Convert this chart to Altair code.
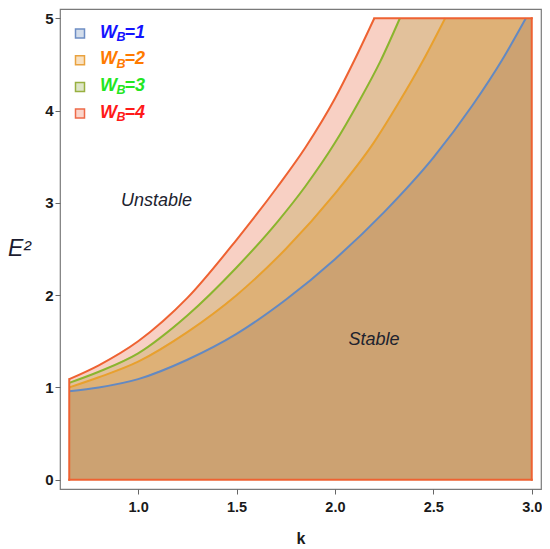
import altair as alt
import pandas as pd

FONT = "Liberation Sans"

# region bounds
K_MIN, K_MAX, E_MAX = 0.65, 3.0, 5.0
# plot range (frame)
X_LO, X_HI = 0.603, 3.047
Y_LO, Y_HI = -0.1, 5.1

# stability boundary curves
k_w1 = [0.65, 0.80, 1.00, 1.25, 1.50, 1.75, 2.00, 2.25, 2.50, 2.70, 2.85, 2.97]
e_w1 = [0.96, 1.00, 1.09, 1.30, 1.58, 1.95, 2.39, 2.90, 3.49, 4.06, 4.55, 5.00]
k_w2 = [0.65, 0.80, 1.00, 1.25, 1.50, 1.75, 2.00, 2.20, 2.32, 2.45, 2.56]
e_w2 = [1.00, 1.11, 1.28, 1.60, 2.00, 2.50, 3.10, 3.66, 4.07, 4.55, 5.00]
k_w3 = [0.65, 0.80, 1.00, 1.25, 1.50, 1.71, 1.85, 2.00, 2.12, 2.23, 2.33]
e_w3 = [1.05, 1.17, 1.37, 1.78, 2.30, 2.80, 3.18, 3.65, 4.09, 4.53, 5.00]
k_w4 = [0.65, 0.80, 1.00, 1.25, 1.50, 1.71, 1.85, 2.00, 2.10, 2.20]
e_w4 = [1.09, 1.24, 1.50, 1.97, 2.60, 3.18, 3.60, 4.13, 4.55, 5.00]

legend_labels = ["=1", "=2", "=3", "=4"]

# ticks
x_major = [1.0, 1.5, 2.0, 2.5, 3.0]
y_major = [0, 1, 2, 3, 4, 5]

# styles
fill_cols = ["#CCA272", "#DEB177", "#E2C19B", "#F8D0C4"]
line_cols = ["#6389C2", "#E8A02E", "#8AB52E", "#EE6232"]
leg_fill = ["#D3DDEB", "#F8E1C2", "#DEE6C8", "#FAD5CB"]
leg_stroke = ["#6D8DC4", "#E9A23F", "#98B040", "#EE6A48"]
leg_text = ["#1414FF", "#FF7A00", "#22E622", "#FF1A1A"]
FRAME = "#7a7a7a"
TICK = "#666666"

W, H = 481, 480

xs = alt.Scale(domain=[X_LO, X_HI], nice=False, zero=False)
ys = alt.Scale(domain=[Y_LO, Y_HI], nice=False, zero=False)

xaxis = alt.Axis(orient="bottom", values=x_major, format=".1f", domain=False, ticks=True,
                 tickSize=5, tickColor=TICK, tickWidth=1, grid=False, labelFont=FONT,
                 labelFontWeight="bold", labelFontSize=14.5, labelColor="#1a1a1a",
                 labelPadding=6, title="k", titleFont=FONT, titleFontSize=16,
                 titleFontWeight="bold", titleColor="#1a1a1a", titleY=54,
                 titleBaseline="alphabetic")
yaxis = alt.Axis(orient="left", values=y_major, format="d", domain=False, ticks=True,
                 tickSize=5, tickColor=TICK, tickWidth=1, grid=False, labelFont=FONT,
                 labelFontWeight="bold", labelFontSize=15, labelColor="#1a1a1a",
                 labelPadding=2, title="E²", titleFont=FONT, titleFontSize=23,
                 titleFontStyle="italic", titleFontWeight="normal", titleColor="#1c1c30",
                 titleAngle=0, titleX=-41, titleY=239, titleAlign="center",
                 titleBaseline="middle")

Xn = alt.X("k:Q", scale=xs, axis=None)
Yn = alt.Y("e:Q", scale=ys, axis=None)

curves = [(k_w1, e_w1), (k_w2, e_w2), (k_w3, e_w3), (k_w4, e_w4)]

layers = []
# filled regions, largest first (the first one carries the labelled axes)
for n, i in enumerate([3, 2, 1, 0]):
    ks, es = curves[i]
    df = pd.DataFrame({"k": ks + [K_MAX], "e": es + [E_MAX]})
    if n == 0:
        enc = dict(x=alt.X("k:Q", scale=xs, axis=xaxis), y=alt.Y("e:Q", scale=ys, axis=yaxis))
    else:
        enc = dict(x=Xn, y=Yn)
    layers.append(alt.Chart(df).mark_area(color=fill_cols[i], opacity=1)
                  .encode(y2=alt.datum(0), **enc))

# boundary curves (smooth)
for i in [0, 1, 2, 3]:
    ks, es = curves[i]
    df = pd.DataFrame({"k": ks, "e": es})
    layers.append(alt.Chart(df).mark_line(color=line_cols[i], strokeWidth=2,
                                          interpolate="monotone")
                  .encode(x=Xn, y=Yn))

# straight outline of W_B = 4 region
edges = pd.DataFrame({"k": [K_MIN, K_MAX, K_MIN, k_w4[-1]],
                      "k2": [K_MIN, K_MAX, K_MAX, K_MAX],
                      "e": [0.0, 0.0, 0.0, E_MAX],
                      "e2": [e_w4[0], E_MAX, 0.0, E_MAX]})
layers.append(alt.Chart(edges).mark_rule(color=line_cols[3], strokeWidth=2, strokeCap="square")
              .encode(x=Xn, x2="k2:Q", y=Yn, y2="e2:Q"))

# legend
one = pd.DataFrame({"a": [0]})
for i, lab in enumerate(legend_labels):
    yc = 24.5 + i * 26.7
    layers.append(alt.Chart(one).mark_square(size=81, fill=leg_fill[i], stroke=leg_stroke[i],
                                             strokeWidth=1.5, opacity=1)
                  .encode(x=alt.value(20), y=alt.value(yc)))
    layers.append(alt.Chart(one).mark_text(text="W", font=FONT, fontSize=18, fontWeight="bold",
                                           fontStyle="italic", align="left", baseline="alphabetic",
                                           color=leg_text[i])
                  .encode(x=alt.value(40), y=alt.value(yc + 4)))
    layers.append(alt.Chart(one).mark_text(text="B", font=FONT, fontSize=12.5, fontWeight="bold",
                                           fontStyle="italic", align="left", baseline="alphabetic",
                                           color=leg_text[i])
                  .encode(x=alt.value(56.5), y=alt.value(yc + 7.5)))
    layers.append(alt.Chart(one).mark_text(text=lab, font=FONT, fontSize=18, fontWeight="bold",
                                           fontStyle="italic", align="left", baseline="alphabetic",
                                           color=leg_text[i])
                  .encode(x=alt.value(64.5), y=alt.value(yc + 4)))

# region labels
layers.append(alt.Chart(one).mark_text(text="Unstable", font=FONT, fontSize=18, fontStyle="italic",
                                       align="center", baseline="middle", color="#20222e")
              .encode(x=alt.value(96.5), y=alt.value(192)))
layers.append(alt.Chart(one).mark_text(text="Stable", font=FONT, fontSize=18, fontStyle="italic",
                                       align="center", baseline="middle", color="#20222e")
              .encode(x=alt.value(314), y=alt.value(331)))

chart = alt.layer(*layers).resolve_axis(x="independent", y="independent").properties(
    width=W, height=H,
    autosize=alt.AutoSizeParams(type="none"),
    padding={"left": 52, "top": 1, "right": 1, "bottom": 62},
    background="white",
).configure_view(stroke=FRAME, strokeWidth=1.2)

chart.save("out.html", embed_options={"renderer": "svg", "actions": False})
